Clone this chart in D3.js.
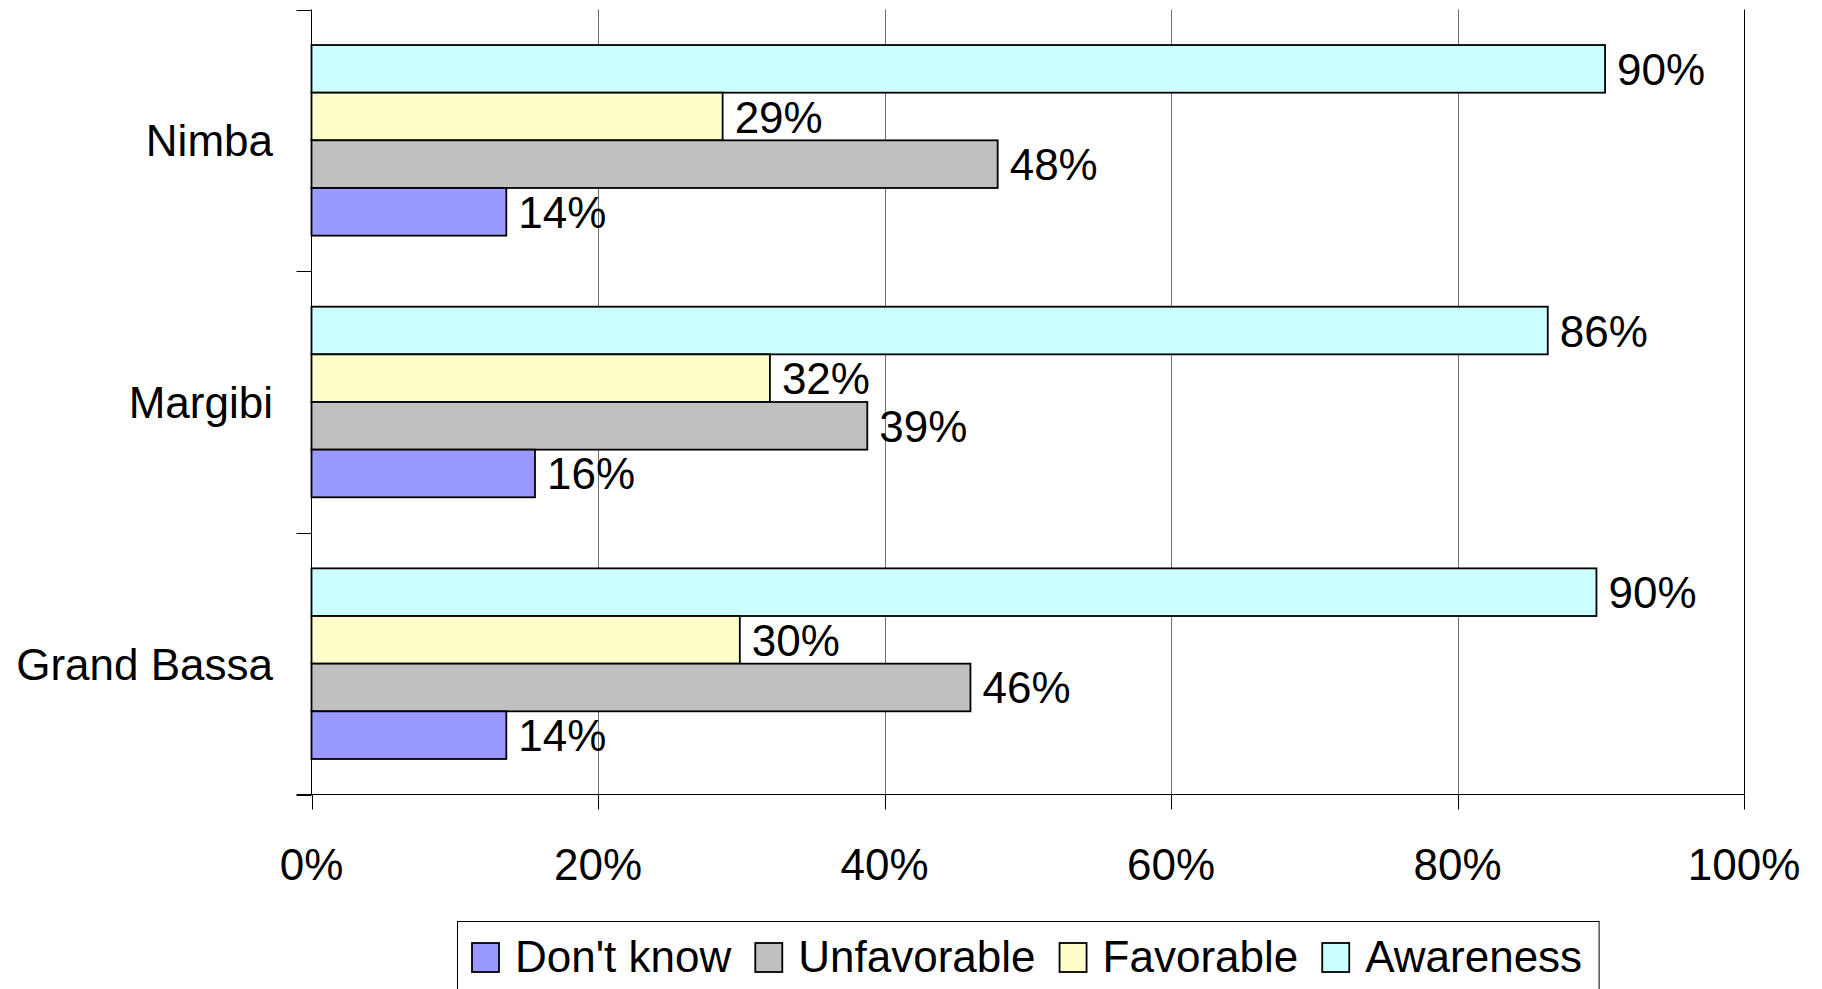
<!DOCTYPE html>
<html>
<head>
<meta charset="utf-8">
<script src="https://cdn.jsdelivr.net/npm/d3@7"></script>
<style>
  html, body { margin: 0; padding: 0; background: #fff; }
  svg { display: block; }
  text { font-family: "Liberation Sans", Arial, sans-serif; fill: #000; }
</style>
</head>
<body>
<svg id="chart" width="1822" height="989"></svg>
<script>
// ---- data ----
const categories = ["Nimba", "Margibi", "Grand Bassa"];
const seriesNames = ["Awareness", "Favorable", "Unfavorable", "Don't know"];
const awareness   = [0.903, 0.863, 0.897];
const favorable   = [0.287, 0.320, 0.299];
const unfavorable = [0.479, 0.388, 0.460];
const dontKnow    = [0.136, 0.156, 0.136];
const legendOrder = ["Don't know", "Unfavorable", "Favorable", "Awareness"];
const xTicks = [0, 0.2, 0.4, 0.6, 0.8, 1.0];
const colors = ["#CCFFFF", "#FFFFCC", "#C0C0C0", "#9999FF"];

const seriesValues = [awareness, favorable, unfavorable, dontKnow];
const rows = categories.map((c, i) => ({
  cat: c,
  vals: seriesNames.map((s, j) => ({ series: s, value: seriesValues[j][i] }))
}));

// ---- layout ----
const svg = d3.select("#chart");
const x0 = 311.5, x1 = 1744, yTop = 9.5, yBot = 794.5, tickLen = 15;

const x = d3.scaleLinear().domain([0, 1]).range([x0, x1]);
const y = d3.scaleBand().domain(categories).range([yTop, yBot])
  .paddingInner(0.2716).paddingOuter(0.1358);
const ys = d3.scaleBand().domain(seriesNames).range([0, y.bandwidth()]);
const color = d3.scaleOrdinal().domain(seriesNames).range(colors);
const pct = d3.format(".0%");

// gridlines
svg.append("g").selectAll("line").data(xTicks.slice(1)).join("line")
  .attr("x1", d => Math.round(x(d)) + 0.5).attr("x2", d => Math.round(x(d)) + 0.5)
  .attr("y1", yTop).attr("y2", yBot)
  .attr("stroke", (d, i, a) => i === a.length - 1 ? "#000" : "#707070")
  .attr("stroke-width", 1);

// bars
const groups = svg.append("g").selectAll("g").data(rows).join("g")
  .attr("transform", d => `translate(0,${y(d.cat)})`);

groups.selectAll("rect").data(d => d.vals).join("rect")
  .attr("x", x(0))
  .attr("y", d => ys(d.series))
  .attr("width", d => x(d.value) - x(0))
  .attr("height", ys.bandwidth())
  .attr("fill", d => color(d.series))
  .attr("stroke", "#000")
  .attr("stroke-width", 1.8);

groups.selectAll("text").data(d => d.vals).join("text")
  .attr("x", d => x(d.value) + 12)
  .attr("y", d => ys(d.series) + ys.bandwidth() / 2 + 16)
  .attr("font-size", 44)
  .text(d => pct(d.value));

// y axis
const yAxis = svg.append("g");
yAxis.append("line").attr("x1", x0).attr("x2", x0).attr("y1", yTop).attr("y2", yBot)
  .attr("stroke", "#000").attr("stroke-width", 1);
const yTickPos = categories.map(c => y(c) - y.step() * y.paddingInner() / 2);
yTickPos.push(yBot);
yTickPos[0] = yTop;
yAxis.selectAll("line.t").data(yTickPos).join("line").attr("class", "t")
  .attr("x1", x0 - tickLen).attr("x2", x0)
  .attr("y1", d => Math.round(d) + 0.5).attr("y2", d => Math.round(d) + 0.5)
  .attr("stroke", "#000");
yAxis.selectAll("text").data(categories).join("text")
  .attr("x", 273).attr("y", d => y(d) + y.bandwidth() / 2 + 16)
  .attr("text-anchor", "end").attr("font-size", 44)
  .text(d => d);

// x axis
const xAxis = svg.append("g");
xAxis.append("line").attr("x1", x0 - tickLen).attr("x2", x1)
  .attr("y1", yBot).attr("y2", yBot).attr("stroke", "#000");
xAxis.selectAll("line.t").data(xTicks).join("line").attr("class", "t")
  .attr("x1", d => Math.round(x(d)) + 0.5).attr("x2", d => Math.round(x(d)) + 0.5)
  .attr("y1", yBot).attr("y2", yBot + tickLen).attr("stroke", "#000");
xAxis.selectAll("text").data(xTicks).join("text")
  .attr("x", d => x(d)).attr("y", 880)
  .attr("text-anchor", "middle").attr("font-size", 44)
  .text(d => pct(d));

// legend
const lg = svg.append("g");
const box = lg.append("rect").attr("x", 457.5).attr("y", 921.5)
  .attr("height", 100).attr("fill", "#fff").attr("stroke", "#000");
let cx = 472;
legendOrder.forEach(name => {
  lg.append("rect").attr("x", cx).attr("y", 943).attr("width", 27).attr("height", 29)
    .attr("fill", color(name)).attr("stroke", "#000").attr("stroke-width", 1.8);
  const t = lg.append("text").attr("x", cx + 43).attr("y", 972)
    .attr("font-size", 44).text(name);
  const w = t.node().getComputedTextLength();
  cx = cx + 43 + w + 24;
});
box.attr("width", cx - 24 + 17 - 457.5);
</script>
</body>
</html>
